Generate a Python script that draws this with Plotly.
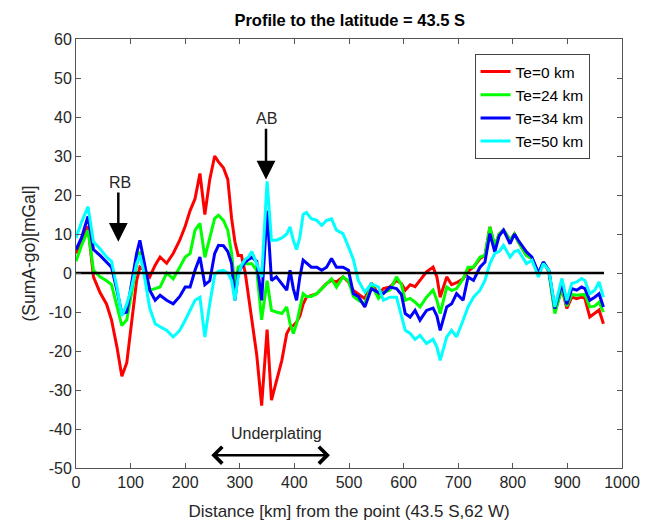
import plotly.graph_objects as go

# ---------------- data ----------------
distance_km = [
    0, 10, 22, 32, 44, 56, 65, 75, 84, 93,
    102, 111, 117, 123, 135, 145, 154, 166, 178, 190,
    200, 209, 218, 227, 236, 245, 254, 261, 270, 278,
    285, 291, 297, 303, 310, 316, 322, 331, 340, 350,
    358, 367, 377, 386, 392, 398, 404, 410, 416, 422,
    431, 441, 450, 459, 468, 477, 489, 499, 508, 517,
    529, 541, 554, 563, 575, 587, 596, 603, 612, 621,
    630, 642, 654, 661, 667, 679, 688, 697, 709, 718,
    728, 740, 749, 758, 767, 775, 783, 795, 803, 810,
    825, 835, 847, 856, 866, 877, 890, 899, 908, 917,
    926, 932, 941, 950, 958, 966,
]

te0_mgal = [
    5, 8, 12, -1, -5, -8, -12, -19, -26.5, -23,
    -12, -2, 1.5, 1, -1, 2, 4.1, 2.5, 5, 8.4,
    12, 16, 19, 25.5, 15, 24, 30, 28.5, 27, 24,
    14, 8, 4.5, 4.5, 0, -6, -12, -21, -34, -14.5,
    -32.6, -27.5, -22.4, -15.5, -14, -13.5, -12.6, -11, -8, -6.2,
    -5.8, -5.3, -4, -2.7, -1.9, -2.3, -1, -2.3, -4.5, -5.5,
    -6.6, -2.5, -5.5, -4, -3.6, -1.9, -2.7, -4.4, -3, -3.5,
    -2, 0.3, 1.5, -1, -6.2, -1, -3, -2.5, -1.5, 0.5,
    1.5, 3.7, 4.5, 11.8, 6.7, 10, 11, 8.4, 10, 8,
    4.5, 3.7, -0.2, 2.8, 0.3, -10, -4, -9.1, -6.2, -6.6,
    -6.2, -6.5, -11.3, -10.4, -9.5, -13,
]

te24_mgal = [
    3, 7, 11, 0.7, -1, -2, -3, -8.5, -13.5, -12,
    -5, 2, 5.5, 2, -4.4, -4, -3.6, 0, -1.5, 1.5,
    4.1, 5, 11, 12.7, 4, 9, 14, 14.8, 13.5, 11,
    5, -3.6, 1.5, 2, 2.4, 2.4, 2.4, 0.7, -12, -2,
    -9.6, -10, -10.4, -8.7, -13, -15.5, -13, -9, -5.3, -6,
    -6, -5.3, -4, -2.7, -1.5, -3.6, -1, -2, -6, -7,
    -7.9, -3, -6.5, -5, -4.4, -1, -3, -7, -6.5, -7.5,
    -8.7, -6.2, -4.4, -7, -10.4, -3.6, -4.5, -4, -1.5, 1.5,
    1.5, 4.1, 4.5, 11.8, 7, 10, 11, 8.4, 10, 8,
    4.5, 3.7, -0.2, 2.8, 0.5, -10.4, -3.8, -8.5, -5.5, -5.7,
    -5.5, -5.5, -8.7, -8.5, -7.5, -10,
]

te34_mgal = [
    6, 9, 14.5, 6, 4.5, 2.8, 1.5, -4.4, -10.4, -10,
    -2.7, 5, 8.4, 4, -4.4, -7, -5.7, -7, -7.9, -6,
    -3.6, -3.6, 0.7, 4.1, -3, -2, 5, 7.1, 7, 5.5,
    2.4, -7, 0, 1.5, 2.8, 3.5, 4, 3, -7, 16,
    -1.9, -1, -2.7, -4.4, 0.7, -4, -7, -1, 3.3, 2.5,
    1.5, 1.5, 0.7, 1.5, 3.7, 1.5, 1.5, 0.7, -5.3, -6,
    -8.7, -4, -5, -5.3, -3.6, -4, -5.5, -10.4, -11.3, -9.6,
    -12.1, -9.6, -9, -11, -14.7, -8.7, -7.9, -5.3, -7, -1,
    -1.9, 1.5, 2.8, 10.1, 5.4, 9.5, 11, 7.5, 10, 8.4,
    5.4, 4.1, 0, 2.8, 0.7, -9.1, -2.7, -8, -4, -4.4,
    -3.6, -4, -7, -6.2, -5.3, -8.7,
]

te50_mgal = [
    9, 13, 17, 8, 6.2, 4.1, 3, -3.6, -11, -8,
    -3.6, 2.4, 4.5, 1, -9, -13, -13.8, -14.7, -16.4, -14.7,
    -12.1, -9.6, -7, -6.2, -16.4, -7.9, -0.5, 0.5, 0.7, 0,
    -1.9, -7, -1, 2, 3.5, 4.1, 5.5, 2.4, -1, 23.5,
    8.4, 8.4, 9, 10, 11.8, 8.4, 6, 9.2, 15, 15.5,
    13.9, 13.5, 12.2, 13.5, 13.9, 11, 10.1, 6.7, 3.5, -1.9,
    -4.9, -2.7, -3.6, -7, -6.2, -6.2, -11, -14.7, -15.5, -17,
    -16, -18.1, -17, -19, -22.4, -16.4, -14.7, -16.4, -12.1, -8.7,
    -6.2, -4.4, -1.9, 2.4, 5, 5.5, 7.1, 4.1, 5.5, 5.8,
    2.4, 3.3, -1, 2.4, 0.7, -8.7, -1.4, -7, -2.7, -2.3,
    -1.4, -1.9, -5.3, -4.4, -2.3, -6.2,
]

series_names = ["Te=0 km", "Te=24 km", "Te=34 km", "Te=50 km"]
series_colors = ["#ff0000", "#00ff00", "#0000ff", "#00ffff"]

zero_line_x = [0, 967]
zero_line_y = [0, 0]

x_tick_vals = [0, 100, 200, 300, 400, 500, 600, 700, 800, 900, 1000]
x_tick_text = ["0", "100", "200", "300", "400", "500", "600", "700", "800", "900", "1000"]
y_tick_vals = [60, 50, 40, 30, 20, 10, 0, -10, -20, -30, -40, -50]
y_tick_text = ["60", "50", "40", "30", "20", "10", "0", "-10", "-20", "-30", "-40", "-50"]

# annotation anchors (data coordinates)
rb_label = ("RB", 80.5, 23.3)
rb_arrow = (77.5, 21.0, 77.5, 8.0)          # x_tail, y_tail, x_tip, y_tip
ab_label = ("AB", 349, 39.6)
ab_arrow = (348, 37.4, 348, 24.0)
under_label = ("Underplating", 367, -41.2)
under_arrow = (245, -46.7, 465, -46.7)

FONT = "Liberation Sans, Arial, Helvetica, sans-serif"
TXT = "#262626"

fig = go.Figure()
for name, col, ys in zip(series_names, series_colors,
                         [te0_mgal, te24_mgal, te34_mgal, te50_mgal]):
    fig.add_trace(go.Scatter(x=distance_km, y=ys, mode="lines", name=name,
                             line=dict(color=col, width=3)))

fig.add_trace(go.Scatter(x=zero_line_x, y=zero_line_y, mode="lines",
                         line=dict(color="black", width=2.5), showlegend=False,
                         hoverinfo="skip"))

ann = []
for lab, x, y in [rb_label, ab_label, under_label]:
    ann.append(dict(x=x, y=y, xref="x", yref="y", text=lab, showarrow=False,
                    font=dict(family=FONT, size=16, color=TXT)))
for (x0, y0, x1, y1) in [rb_arrow, ab_arrow]:
    ann.append(dict(x=x1, y=y1, ax=x0, ay=y0, xref="x", yref="y", axref="x", ayref="y",
                    text="", showarrow=True, arrowhead=2, arrowsize=1.5,
                    arrowwidth=2.5, arrowcolor="black"))
x0, y0, x1, y1 = under_arrow
ann.append(dict(x=x1, y=y1, ax=x0, ay=y0, xref="x", yref="y", axref="x", ayref="y",
                text="", showarrow=True, arrowhead=4, arrowsize=1.3, arrowside="end+start",
                arrowwidth=2.5, arrowcolor="black"))

fig.update_layout(
    width=650, height=522,
    margin=dict(l=76, r=28, t=39, b=54, autoexpand=False),
    paper_bgcolor="white", plot_bgcolor="white",
    font=dict(family=FONT, size=16, color=TXT),
    title=dict(text="<b>Profile to the latitude = 43.5 S</b>", x=0.538, xanchor="center",
               y=1 - 20 / 522, yanchor="middle", yref="container",
               font=dict(family=FONT, size=16.5, color="black")),
    showlegend=True,
    legend=dict(x=0.73, y=0.965, xanchor="left", yanchor="top",
                bgcolor="white", bordercolor="#444", borderwidth=1,
                font=dict(family=FONT, size=15.5, color="black"),
                tracegroupgap=0, itemwidth=30),
    annotations=ann,
)

fig.update_xaxes(range=[0, 1000], tickvals=x_tick_vals, ticktext=x_tick_text,
                 automargin=False,
                 showgrid=False, zeroline=False, showline=True, linecolor="#555",
                 linewidth=1, mirror="ticks", ticks="inside", ticklen=5, tickcolor="#555",
                 tickfont=dict(size=16, color=TXT),
                 title=dict(text="Distance [km] from the point (43.5 S,62 W)",
                            font=dict(size=17, color=TXT), standoff=14))
fig.update_yaxes(range=[-50, 60], tickvals=y_tick_vals, ticktext=y_tick_text,
                 automargin=False,
                 showgrid=False, zeroline=False, showline=True, linecolor="#555",
                 linewidth=1, mirror="ticks", ticks="inside", ticklen=5, tickcolor="#555",
                 tickfont=dict(size=16, color=TXT),
                 title=dict(text="(SumA-go)[mGal]", font=dict(size=17.5, color=TXT), standoff=8))

fig.write_html("out.html")
